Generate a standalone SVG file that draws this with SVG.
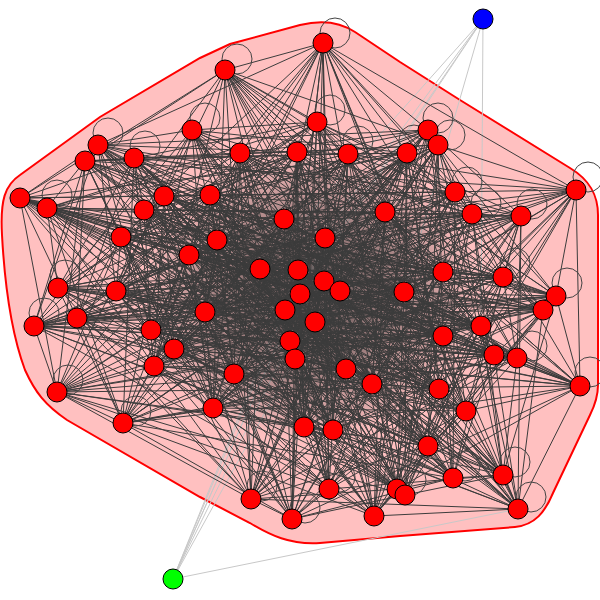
<svg xmlns="http://www.w3.org/2000/svg" width="600" height="600" viewBox="0 0 600 600">
<defs>
<radialGradient id="dk" cx="0.5" cy="0.5" r="0.5">
<stop offset="0" stop-color="#3a3a3a" stop-opacity="0.8"/>
<stop offset="0.55" stop-color="#3a3a3a" stop-opacity="0.45"/>
<stop offset="1" stop-color="#3a3a3a" stop-opacity="0"/>
</radialGradient>
</defs>
<style>
.hull{fill:#ffc0c0;stroke:#ff0000;stroke-width:2}
.e{fill:none;stroke:#3c3c3c;stroke-width:1;stroke-linejoin:bevel}
.le{fill:none;stroke:#c8c8c8;stroke-width:1}
.lp{fill:none;stroke:#444;stroke-width:1}
.n circle{stroke:#000;stroke-width:1}
.r{fill:#ff0000}
</style>
<rect width="600" height="600" fill="#fff"/>
<path class="hull" d="M20 175 L100 117 L200 58 L230 44 L300 25 C320 20 340 22 355 32 L400 62 L460 100 L570 168 C590 180 598 195 598 215 L598 385 C598 395 595 405 590 415 L553 493 C545 512 535 525 515 527 L400 536 L320 543 C290 545 270 535 250 523 L200 497 L67 420 C45 405 35 392 25 370 C12 335 5 290 2 235 C0 200 5 185 20 175 Z"/>
<g id="connectors">
<path class="le" d="M483 19L260 269M483 19L298 270M483 19L300 294M483 19L285 310M483 19L404 292M483 19L481 326M173 579L298 270M173 579L300 294M173 579L285 310M173 579L325 238M173 579L290 341M173 579L315 322M173 579L518 509"/>
<ellipse cx="310" cy="295" rx="170" ry="145" fill="url(#dk)"/>
<path class="e" d="M323 43L225 70 317 122 192 130 98 145 85 161 134 158 240 153 297 152 348 154 407 153 428 130 438 145 455 192 472 214 521 216M20 198 47 208 144 210 164 196 210 195 284 219 385 212 121 237 217 240 189 255 325 238 260 269 298 270 324 281 340 291 300 294 285 310 315 322 404 292 443 272 503 277 556 296 543 310 58 288 116 291 34 326 77 318 205 312 151 330 174 349 154 366 234 374 290 341 295 359 346 369 372 384 443 336 481 326 494 355 517 358 580 386 57 392 123 423 213 408 304 427 333 430 439 389 466 411 428 446 453 478 503 475 518 509 251 499 292 519 329 489 374 516 397 489 405 495 323 43
M323 43L98 145 297 152 438 145 576 190 164 196 121 237 260 269 300 294 443 272 58 288 205 312 234 374 372 384 517 358 213 408 466 411 518 509 374 516 225 70 85 161 348 154 455 192 20 198 210 195 217 240 298 270 285 310 503 277 116 291 151 330 290 341 443 336 580 386 304 427 428 446 251 499 397 489 317 122 134 158 407 153 472 214 47 208 284 219 189 255 324 281 315 322 556 296 34 326 174 349 295 359 481 326 57 392 333 430 453 478 292 519 405 495 192 130 240 153 428 130 521 216 144 210 385 212 325 238 340 291 404 292 543 310 77 318 154 366 346 369 494 355 123 423 439 389 503 475 329 489Z
M323 43L240 153 472 214 210 195 260 269 404 292 34 326 290 341 517 358 439 389 292 519 317 122 348 154 576 190 385 212 324 281 503 277 205 312 346 369 57 392 428 446 374 516 98 145 428 130 47 208 217 240 300 294 543 310 174 349 443 336 213 408 503 475 405 495 134 158 455 192 164 196 325 238 315 322 116 291 234 374 494 355 333 430 251 499 225 70 297 152 521 216 284 219 298 270 443 272 77 318 295 359 580 386 466 411 329 489 192 130 407 153 20 198 121 237 340 291 556 296 151 330 372 384 123 423 453 478 397 489 85 161 438 145 144 210 189 255 285 310 58 288 154 366 481 326 304 427 518 509Z
M323 43L428 130 284 219 285 310 205 312 494 355 453 478 317 122 455 192 121 237 404 292 174 349 580 386 518 509 98 145 521 216 189 255 503 277 234 374 123 423 292 519 134 158 20 198 260 269 543 310 295 359 304 427 374 516 297 152 144 210 324 281 116 291 372 384 439 389 405 495 407 153 210 195 300 294 77 318 481 326 428 446 225 70 438 145 385 212 315 322 151 330 517 358 503 475 192 130 472 214 217 240 443 272 154 366 57 392 251 499 85 161 576 190 325 238 556 296 290 341 213 408 329 489 240 153 47 208 298 270 58 288 346 369 333 430 397 489 348 154 164 196 340 291 34 326 443 336 466 411Z
M323 43L455 192 189 255 543 310 372 384 428 446 192 130M298 270 34 326 494 355 518 509 134 158 144 210 300 294 151 330 57 392 329 489 348 154 284 219 404 292 234 374 304 427 405 495 438 145 217 240 556 296 346 369 466 411 317 122 521 216 260 269 116 291 481 326 503 475 85 161 47 208 340 291 205 312 580 386 292 519 297 152 210 195 315 322 154 366 213 408 397 489 428 130 121 237 503 277 295 359 439 389 225 70 472 214 325 238 58 288 443 336 453 478 98 145 20 198 324 281 77 318 517 358 251 499 240 153 164 196 285 310 174 349 123 423 374 516 407 153 385 212 443 272 290 341 333 430 323 43
M323 43L576 190 300 294 234 374 466 411 85 161 210 195 503 277 443 336 251 499 407 153 189 255 34 326 57 392 405 495 521 216 340 291 154 366 439 389 98 145 164 196 443 272 372 384 518 509 348 154 217 240 116 291 580 386 397 489 472 214 324 281 174 349 333 430 192 130 144 210 404 292 346 369 503 475 297 152 121 237 58 288 517 358 374 516 455 192 298 270 151 330 304 427 317 122 47 208 315 322 295 359 453 478 240 153 385 212 543 310 494 355 329 489 438 145 260 269 205 312 213 408 225 70 20 198 285 310 290 341 428 446 134 158 284 219 556 296 481 326 292 519 428 130 325 238 77 318 123 423Z
M323 43L144 210 556 296 580 386 225 70 164 196 543 310 57 392 317 122 210 195 58 288 123 423 192 130 284 219 116 291 213 408 98 145 385 212 34 326 304 427 85 161 121 237 77 318 333 430 134 158 217 240 205 312 439 389 240 153 189 255 151 330 466 411 297 152 325 238 174 349 428 446 348 154 260 269 154 366 453 478 407 153 298 270 234 374 503 475 428 130 324 281 290 341 518 509 438 145 340 291 295 359 251 499 455 192 300 294 346 369 292 519 472 214 285 310 372 384 329 489 521 216 315 322 443 336 374 516 576 190 404 292 481 326 397 489 20 198 443 272 494 355 405 495 47 208 503 277 517 358Z
M323 43L284 219 205 312 453 478 455 192 404 292 580 386 98 145 189 255 234 374 292 519 20 198 543 310 304 427 297 152 324 281 372 384 405 495 210 195 77 318 428 446 438 145 315 322 517 358 192 130 217 240 154 366 251 499 576 190 556 296 213 408 240 153 298 270 346 369 397 489 164 196 34 326 466 411 428 130 285 310 494 355 317 122 121 237 174 349 518 509 521 216 503 277 123 423 134 158 260 269 295 359 374 516 144 210 116 291 439 389 407 153 300 294 481 326 225 70 385 212 151 330 503 475 472 214 443 272 57 392 85 161 325 238 290 341 329 489 47 208 58 288 333 430 348 154 340 291 443 336Z
M323 43L189 255 372 384 192 130 298 270 494 355 134 158 300 294 57 392 348 154 404 292 304 427 438 145 556 296 466 411 521 216 116 291 503 475 47 208 205 312 292 519 210 195 154 366 397 489 121 237 295 359 225 70 325 238 443 336 98 145 324 281 517 358 240 153 285 310 123 423 407 153 443 272 333 430 455 192 543 310 428 446 576 190 34 326 518 509 144 210 151 330 329 489 284 219 234 374 405 495 217 240 346 369 317 122 260 269 481 326 85 161 340 291 580 386 297 152 315 322 213 408 428 130 503 277 439 389 472 214 58 288 453 478 20 198 77 318 251 499 164 196 174 349 374 516 385 212 290 341Z
M323 43L298 270 57 392 438 145 116 291 292 519 121 237 443 336 240 153 443 272 428 446 144 210 234 374 317 122 340 291 213 408 472 214 77 318 374 516 189 255 494 355 348 154 556 296 503 475 210 195 295 359 98 145 285 310 333 430 576 190 151 330 405 495 260 269 580 386 428 130 58 288 251 499 385 212 372 384 134 158 404 292 466 411 47 208 154 366 225 70 324 281 123 423 455 192 34 326 329 489 217 240 481 326 297 152 503 277 453 478 164 196 290 341 192 130 300 294 304 427 521 216 205 312 397 489 325 238 517 358 407 153 543 310 518 509 284 219 346 369 85 161 315 322 439 389 20 198 174 349Z
M323 43L315 322 518 509 325 238 304 427 164 196 481 326 455 192 154 366 134 158 58 288 405 495 285 310 503 475 189 255 213 408 144 210 443 336 438 145 174 349 85 161 543 310 397 489 300 294 453 478 217 240 123 423 47 208 372 384 428 130 151 330 98 145 556 296 374 516 340 291 428 446 121 237 57 392 20 198 346 369 407 153 205 312 192 130 503 277 329 489 324 281 466 411 385 212 580 386 576 190 295 359 348 154 77 318 317 122 443 272 292 519 298 270 439 389 284 219 517 358 521 216 290 341 297 152 34 326 225 70 404 292 251 499 260 269 333 430 210 195 494 355 472 214 234 374 240 153 116 291Z
M323 43L503 277 405 495 443 272 397 489 404 292 374 516 315 322 329 489 285 310 292 519 300 294 251 499 340 291 518 509 324 281 503 475 298 270 453 478 260 269 428 446 325 238 466 411 189 255 439 389 217 240 333 430 121 237 304 427 385 212 213 408 284 219 123 423 210 195 57 392 164 196 580 386 144 210 517 358 47 208 494 355 20 198 481 326 576 190 443 336 521 216 372 384 472 214 346 369 455 192 295 359 438 145 290 341 428 130 234 374 407 153 154 366 348 154 174 349 297 152 151 330 240 153 205 312 134 158 77 318 85 161 34 326 98 145 116 291 192 130 58 288 317 122 543 310 225 70 556 296Z
M240 153L300 294 213 408 260 269 346 369 121 237 154 366 164 196 116 291 297 152 285 310 304 427 298 270 372 384 217 240 234 374 210 195 205 312 348 154 315 322 333 430 324 281 443 336 189 255 290 341 284 219 151 330 407 153 404 292 439 389 340 291 481 326 325 238 295 359 385 212 174 349 144 210 443 272Z
M240 153L324 281 346 369 284 219 116 291 439 389 298 270 295 359 210 195 443 272 333 430 260 269 290 341 164 196 404 292 304 427 325 238 234 374 144 210 315 322 213 408 189 255 154 366 407 153 285 310 481 326 217 240 174 349 348 154 300 294 443 336 121 237 151 330 297 152 340 291 372 384 385 212 205 312Z
M240 153L260 269 154 366 297 152 298 270 234 374 348 154 324 281 290 341 407 153 340 291 295 359 144 210 300 294 346 369 164 196 285 310 372 384 210 195 315 322 443 336 284 219 404 292 481 326 385 212 443 272 213 408 121 237 116 291 304 427 217 240 205 312 333 430 189 255 151 330 439 389 325 238 174 349Z"/>
<g class="lp">
<circle cx="335" cy="33" r="15"/><circle cx="237" cy="59" r="15"/><circle cx="330" cy="110" r="15"/><circle cx="205" cy="118" r="15"/><circle cx="108" cy="133" r="15"/><circle cx="145" cy="146" r="15"/><circle cx="358" cy="141" r="15"/><circle cx="414" cy="140" r="15"/><circle cx="438" cy="118" r="15"/><circle cx="450" cy="135" r="15"/><circle cx="467" cy="182" r="15"/><circle cx="486" cy="203" r="15"/><circle cx="532" cy="204" r="15"/><circle cx="588" cy="177" r="15"/><circle cx="57" cy="195" r="15"/><circle cx="515" cy="263" r="15"/><circle cx="567" cy="283" r="15"/><circle cx="65" cy="275" r="15"/><circle cx="44" cy="313" r="15"/><circle cx="532" cy="346" r="15"/><circle cx="590" cy="372" r="15"/><circle cx="68" cy="380" r="15"/><circle cx="136" cy="411" r="15"/><circle cx="465" cy="466" r="15"/><circle cx="515" cy="462" r="15"/><circle cx="531" cy="497" r="15"/><circle cx="262" cy="486" r="15"/><circle cx="305" cy="508" r="15"/><circle cx="411" cy="480" r="15"/><circle cx="340" cy="477" r="15"/>
</g>
</g>
<g class="n">
<g id="n0"><circle class="r" cx="323" cy="43" r="10"/></g>
<g id="n1"><circle class="r" cx="225" cy="70" r="10"/></g>
<g id="n2"><circle class="r" cx="317" cy="122" r="10"/></g>
<g id="n3"><circle class="r" cx="192" cy="130" r="10"/></g>
<g id="n4"><circle class="r" cx="98" cy="145" r="10"/></g>
<g id="n5"><circle class="r" cx="85" cy="161" r="10"/></g>
<g id="n6"><circle class="r" cx="134" cy="158" r="10"/></g>
<g id="n7"><circle class="r" cx="240" cy="153" r="10"/></g>
<g id="n8"><circle class="r" cx="297" cy="152" r="10"/></g>
<g id="n9"><circle class="r" cx="348" cy="154" r="10"/></g>
<g id="n10"><circle class="r" cx="407" cy="153" r="10"/></g>
<g id="n11"><circle class="r" cx="428" cy="130" r="10"/></g>
<g id="n12"><circle class="r" cx="438" cy="145" r="10"/></g>
<g id="n13"><circle class="r" cx="455" cy="192" r="10"/></g>
<g id="n14"><circle class="r" cx="472" cy="214" r="10"/></g>
<g id="n15"><circle class="r" cx="521" cy="216" r="10"/></g>
<g id="n16"><circle class="r" cx="576" cy="190" r="10"/></g>
<g id="n17"><circle class="r" cx="20" cy="198" r="10"/></g>
<g id="n18"><circle class="r" cx="47" cy="208" r="10"/></g>
<g id="n19"><circle class="r" cx="144" cy="210" r="10"/></g>
<g id="n20"><circle class="r" cx="164" cy="196" r="10"/></g>
<g id="n21"><circle class="r" cx="210" cy="195" r="10"/></g>
<g id="n22"><circle class="r" cx="284" cy="219" r="10"/></g>
<g id="n23"><circle class="r" cx="385" cy="212" r="10"/></g>
<g id="n24"><circle class="r" cx="121" cy="237" r="10"/></g>
<g id="n25"><circle class="r" cx="217" cy="240" r="10"/></g>
<g id="n26"><circle class="r" cx="189" cy="255" r="10"/></g>
<g id="n27"><circle class="r" cx="325" cy="238" r="10"/></g>
<g id="n28"><circle class="r" cx="260" cy="269" r="10"/></g>
<g id="n29"><circle class="r" cx="298" cy="270" r="10"/></g>
<g id="n30"><circle class="r" cx="324" cy="281" r="10"/></g>
<g id="n31"><circle class="r" cx="340" cy="291" r="10"/></g>
<g id="n32"><circle class="r" cx="300" cy="294" r="10"/></g>
<g id="n33"><circle class="r" cx="285" cy="310" r="10"/></g>
<g id="n34"><circle class="r" cx="315" cy="322" r="10"/></g>
<g id="n35"><circle class="r" cx="404" cy="292" r="10"/></g>
<g id="n36"><circle class="r" cx="443" cy="272" r="10"/></g>
<g id="n37"><circle class="r" cx="503" cy="277" r="10"/></g>
<g id="n38"><circle class="r" cx="556" cy="296" r="10"/></g>
<g id="n39"><circle class="r" cx="543" cy="310" r="10"/></g>
<g id="n40"><circle class="r" cx="58" cy="288" r="10"/></g>
<g id="n41"><circle class="r" cx="116" cy="291" r="10"/></g>
<g id="n42"><circle class="r" cx="34" cy="326" r="10"/></g>
<g id="n43"><circle class="r" cx="77" cy="318" r="10"/></g>
<g id="n44"><circle class="r" cx="205" cy="312" r="10"/></g>
<g id="n45"><circle class="r" cx="151" cy="330" r="10"/></g>
<g id="n46"><circle class="r" cx="174" cy="349" r="10"/></g>
<g id="n47"><circle class="r" cx="154" cy="366" r="10"/></g>
<g id="n48"><circle class="r" cx="234" cy="374" r="10"/></g>
<g id="n49"><circle class="r" cx="290" cy="341" r="10"/></g>
<g id="n50"><circle class="r" cx="295" cy="359" r="10"/></g>
<g id="n51"><circle class="r" cx="346" cy="369" r="10"/></g>
<g id="n52"><circle class="r" cx="372" cy="384" r="10"/></g>
<g id="n53"><circle class="r" cx="443" cy="336" r="10"/></g>
<g id="n54"><circle class="r" cx="481" cy="326" r="10"/></g>
<g id="n55"><circle class="r" cx="494" cy="355" r="10"/></g>
<g id="n56"><circle class="r" cx="517" cy="358" r="10"/></g>
<g id="n57"><circle class="r" cx="580" cy="386" r="10"/></g>
<g id="n58"><circle class="r" cx="57" cy="392" r="10"/></g>
<g id="n59"><circle class="r" cx="123" cy="423" r="10"/></g>
<g id="n60"><circle class="r" cx="213" cy="408" r="10"/></g>
<g id="n61"><circle class="r" cx="304" cy="427" r="10"/></g>
<g id="n62"><circle class="r" cx="333" cy="430" r="10"/></g>
<g id="n63"><circle class="r" cx="439" cy="389" r="10"/></g>
<g id="n64"><circle class="r" cx="466" cy="411" r="10"/></g>
<g id="n65"><circle class="r" cx="428" cy="446" r="10"/></g>
<g id="n66"><circle class="r" cx="453" cy="478" r="10"/></g>
<g id="n67"><circle class="r" cx="503" cy="475" r="10"/></g>
<g id="n68"><circle class="r" cx="518" cy="509" r="10"/></g>
<g id="n69"><circle class="r" cx="251" cy="499" r="10"/></g>
<g id="n70"><circle class="r" cx="292" cy="519" r="10"/></g>
<g id="n71"><circle class="r" cx="329" cy="489" r="10"/></g>
<g id="n72"><circle class="r" cx="374" cy="516" r="10"/></g>
<g id="n73"><circle class="r" cx="397" cy="489" r="10"/></g>
<g id="n74"><circle class="r" cx="405" cy="495" r="10"/></g>
<g id="blue"><circle cx="483" cy="19" r="10" fill="#0000ff"/></g>
<g id="green"><circle cx="173" cy="579" r="10" fill="#00ff00"/></g>
</g>
</svg>
